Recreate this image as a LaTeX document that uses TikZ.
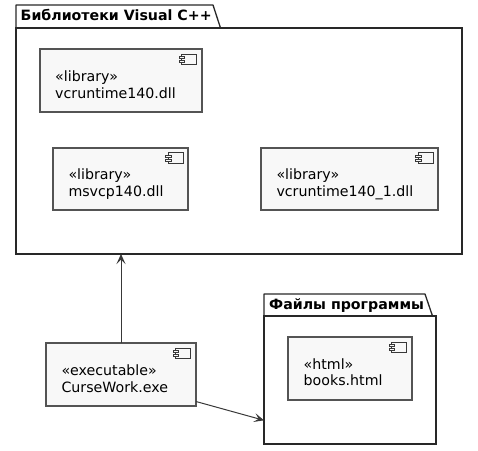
\documentclass[tikz,border=0pt]{standalone}
\usepackage{fontspec}
\setmainfont{DejaVu Sans}
\usetikzlibrary{arrows.meta}
\definecolor{boxfill}{HTML}{F8F8F8}
\definecolor{boxline}{HTML}{545454}
\definecolor{pkgline}{HTML}{282828}
\definecolor{linkline}{HTML}{383838}
\tikzset{
  x=1pt,y=-1pt,
  pkgbody/.style={draw=pkgline,line width=1.3pt,fill=white,inner sep=0pt,outer sep=0pt,anchor=north west},
  pkgtab/.style={draw=pkgline,line width=1.3pt,fill=white,line join=round},
  pkglabel/.style={font=\fontsize{14.2}{16}\selectfont\bfseries,anchor=base west,inner sep=0pt},
  compbox/.style={draw=boxline,line width=1.3pt,fill=boxfill,inner sep=0pt,outer sep=0pt,anchor=north west},
  comptext/.style={font=\fontsize{14.2}{16.6}\selectfont,anchor=north west,align=left,inner sep=0pt},
  iconline/.style={draw=linkline,line width=1pt,fill=boxfill},
  link/.style={draw=linkline,line width=1pt,-{Stealth[length=10pt,width=9pt,inset=4.5pt]}},
}
\newcommand{\compicon}[2]{%
  \draw[iconline] (#1-15,#2) rectangle (#1,#2+10.5);
  \draw[iconline] (#1-17.5,#2+2.5) rectangle (#1-12,#2+4.5);
  \draw[iconline] (#1-17.5,#2+6.5) rectangle (#1-12,#2+8.5);
}
\begin{document}
\begin{tikzpicture}
\useasboundingbox (0,0) rectangle (478,450);
% package A
\draw[pkgtab] (16,28) -- (16,5) -- (213,5) -- (220.5,28);
\node[pkgbody,minimum width=446pt,minimum height=226pt] (pkgA) at (16,28) {};
\node[pkglabel] (pkgAname) at (20.5,20.5) {Библиотеки Visual C++};
% package B
\draw[pkgtab] (264,316) -- (264,294) -- (425,294) -- (432.5,316);
\node[pkgbody,minimum width=172pt,minimum height=128pt] (pkgB) at (264,316) {};
\node[pkglabel] (pkgBname) at (269,309.3) {Файлы программы};
% components
\node[compbox,minimum width=162pt,minimum height=63pt] (vc) at (40,49) {};
\compicon{196.5}{54}
\node[comptext] (vctext) at (55,70.6) {«library»\\vcruntime140.dll};
\node[compbox,minimum width=135pt,minimum height=62pt] (ms) at (53,148) {};
\compicon{183.3}{152.8}
\node[comptext] (mstext) at (68.3,168.9) {«library»\\msvcp140.dll};
\node[compbox,minimum width=177pt,minimum height=62pt] (vc1) at (261,148) {};
\compicon{433.3}{152.8}
\node[comptext] (vc1text) at (276.3,168.9) {«library»\\vcruntime140\_1.dll};
\node[compbox,minimum width=124pt,minimum height=63pt] (bk) at (288,337) {};
\compicon{406.7}{342.2}
\node[comptext] (bktext) at (303.5,358.2) {«html»\\books.html};
\node[compbox,minimum width=150pt,minimum height=63pt] (ex) at (46,343) {};
\compicon{190.7}{348.3}
\node[comptext] (extext) at (61.3,364.9) {«executable»\\CurseWork.exe};
% connectors
\draw[link] (ex.north) -- (ex.north |- pkgA.south);
\draw[link] ([yshift=-27pt]ex.east) -- ([yshift=-40.3pt]pkgB.west);
\end{tikzpicture}
\end{document}
